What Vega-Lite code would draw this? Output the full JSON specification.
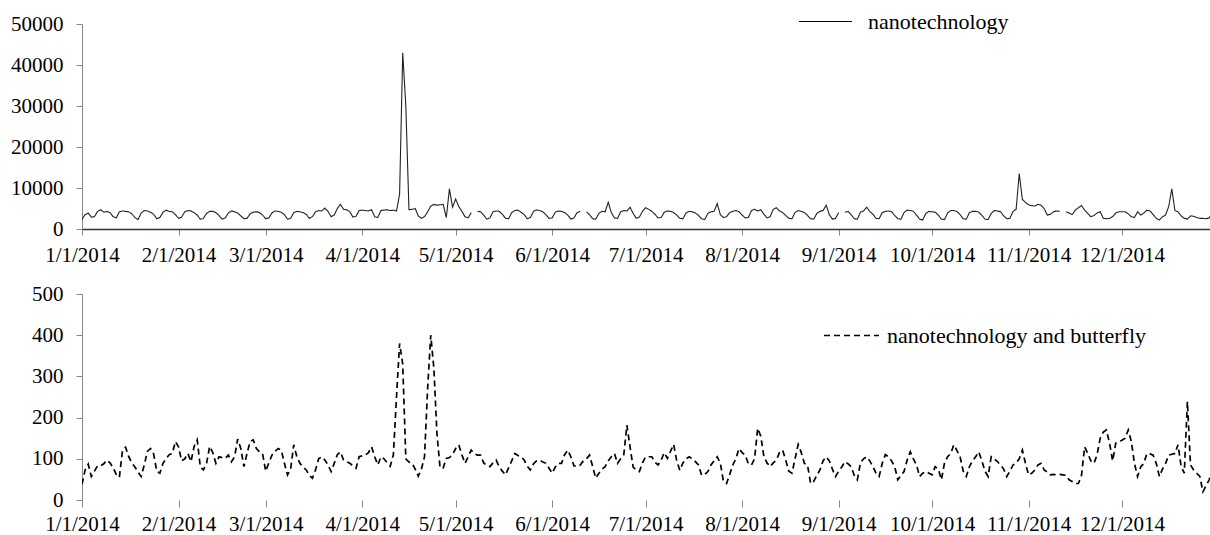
{
"$schema": "https://vega.github.io/schema/vega-lite/v6.json",
"padding": {"left": 10, "top": -6, "right": 0, "bottom": 0},
"background": "white",
"spacing": 18,
"config": {
  "view": {"stroke": null},
  "font": "'Liberation Serif', 'Times New Roman', 'DejaVu Serif', serif",
  "axis": {"labelFont": "'Liberation Serif', 'Times New Roman', 'DejaVu Serif', serif", "labelFontSize": 21, "labelColor": "#000", "grid": false, "title": null, "tickColor": "#888", "domainColor": "#888", "tickSize": 6, "labelFlush": false, "labelOverlap": false},
  "legend": {"labelFont": "'Liberation Serif', 'Times New Roman', 'DejaVu Serif', serif", "labelFontSize": 22, "labelColor": "#000", "title": null, "labelLimit": 400}
},
"data": {"values": [
{"d":"2014-01-01","n":2400,"b":38},{"d":"2014-01-02","n":3500,"b":73},{"d":"2014-01-03","n":3900,"b":87},{"d":"2014-01-04","n":2900,"b":57},{"d":"2014-01-05","n":3000,"b":70},{"d":"2014-01-06","n":4300,"b":83},{"d":"2014-01-07","n":4700,"b":83},{"d":"2014-01-08","n":4100,"b":88},{"d":"2014-01-09","n":4300,"b":97},{"d":"2014-01-10","n":4000,"b":90},{"d":"2014-01-11","n":3000,"b":78},{"d":"2014-01-12","n":2700,"b":62},{"d":"2014-01-13","n":4200,"b":55},{"d":"2014-01-14","n":4400,"b":120},{"d":"2014-01-15","n":4300,"b":128},{"d":"2014-01-16","n":4200,"b":105},{"d":"2014-01-17","n":3700,"b":90},{"d":"2014-01-18","n":2800,"b":80},{"d":"2014-01-19","n":2300,"b":68},{"d":"2014-01-20","n":3900,"b":57},{"d":"2014-01-21","n":4500,"b":85},{"d":"2014-01-22","n":4400,"b":118},{"d":"2014-01-23","n":4100,"b":125},{"d":"2014-01-24","n":3600,"b":112},{"d":"2014-01-25","n":2500,"b":70},{"d":"2014-01-26","n":2800,"b":65},{"d":"2014-01-27","n":4100,"b":89},{"d":"2014-01-28","n":4600,"b":100},{"d":"2014-01-29","n":4300,"b":110},{"d":"2014-01-30","n":4200,"b":113},{"d":"2014-01-31","n":3500,"b":142},
{"d":"2014-02-01","n":2600,"b":129},{"d":"2014-02-02","n":2900,"b":95},{"d":"2014-02-03","n":4200,"b":100},{"d":"2014-02-04","n":4500,"b":113},{"d":"2014-02-05","n":4400,"b":93},{"d":"2014-02-06","n":4000,"b":130},{"d":"2014-02-07","n":3400,"b":146},{"d":"2014-02-08","n":2400,"b":80},{"d":"2014-02-09","n":2600,"b":73},{"d":"2014-02-10","n":3800,"b":89},{"d":"2014-02-11","n":4300,"b":130},{"d":"2014-02-12","n":4300,"b":115},{"d":"2014-02-13","n":4000,"b":89},{"d":"2014-02-14","n":3300,"b":105},{"d":"2014-02-15","n":2400,"b":103},{"d":"2014-02-16","n":2700,"b":101},{"d":"2014-02-17","n":3900,"b":109},{"d":"2014-02-18","n":4400,"b":93},{"d":"2014-02-19","n":4200,"b":105},{"d":"2014-02-20","n":3900,"b":148},{"d":"2014-02-21","n":3200,"b":125},{"d":"2014-02-22","n":2500,"b":81},{"d":"2014-02-23","n":2600,"b":113},{"d":"2014-02-24","n":3700,"b":142},{"d":"2014-02-25","n":4100,"b":146},{"d":"2014-02-26","n":4200,"b":125},{"d":"2014-02-27","n":4000,"b":117},{"d":"2014-02-28","n":3400,"b":112},
{"d":"2014-03-01","n":2500,"b":70},{"d":"2014-03-02","n":2700,"b":90},{"d":"2014-03-03","n":3900,"b":109},{"d":"2014-03-04","n":4400,"b":118},{"d":"2014-03-05","n":4300,"b":125},{"d":"2014-03-06","n":4100,"b":121},{"d":"2014-03-07","n":3500,"b":89},{"d":"2014-03-08","n":2400,"b":61},{"d":"2014-03-09","n":2600,"b":75},{"d":"2014-03-10","n":4000,"b":134},{"d":"2014-03-11","n":4300,"b":105},{"d":"2014-03-12","n":4200,"b":89},{"d":"2014-03-13","n":4000,"b":80},{"d":"2014-03-14","n":3600,"b":73},{"d":"2014-03-15","n":2600,"b":60},{"d":"2014-03-16","n":3000,"b":53},{"d":"2014-03-17","n":4200,"b":73},{"d":"2014-03-18","n":4500,"b":100},{"d":"2014-03-19","n":4400,"b":105},{"d":"2014-03-20","n":5100,"b":97},{"d":"2014-03-21","n":4300,"b":85},{"d":"2014-03-22","n":3000,"b":69},{"d":"2014-03-23","n":3400,"b":89},{"d":"2014-03-24","n":5000,"b":110},{"d":"2014-03-25","n":6000,"b":117},{"d":"2014-03-26","n":4800,"b":97},{"d":"2014-03-27","n":4700,"b":93},{"d":"2014-03-28","n":4200,"b":89},{"d":"2014-03-29","n":2900,"b":83},{"d":"2014-03-30","n":3100,"b":77},{"d":"2014-03-31","n":4500,"b":105},
{"d":"2014-04-01","n":4600,"b":107},{"d":"2014-04-02","n":4500,"b":109},{"d":"2014-04-03","n":4400,"b":115},{"d":"2014-04-04","n":4700,"b":129},{"d":"2014-04-05","n":3000,"b":105},{"d":"2014-04-06","n":2800,"b":85},{"d":"2014-04-07","n":4500,"b":105},{"d":"2014-04-08","n":4600,"b":100},{"d":"2014-04-09","n":4700,"b":90},{"d":"2014-04-10","n":4500,"b":82},{"d":"2014-04-11","n":4600,"b":110},{"d":"2014-04-12","n":4400,"b":250},{"d":"2014-04-13","n":8500,"b":380},{"d":"2014-04-14","n":43000,"b":330},{"d":"2014-04-15","n":30000,"b":100},{"d":"2014-04-16","n":4700,"b":92},{"d":"2014-04-17","n":4800,"b":89},{"d":"2014-04-18","n":5000,"b":75},{"d":"2014-04-19","n":3200,"b":58},{"d":"2014-04-20","n":2600,"b":75},{"d":"2014-04-21","n":3000,"b":105},{"d":"2014-04-22","n":4200,"b":270},{"d":"2014-04-23","n":5600,"b":400},{"d":"2014-04-24","n":6000,"b":320},{"d":"2014-04-25","n":5800,"b":160},{"d":"2014-04-26","n":5900,"b":78},{"d":"2014-04-27","n":6000,"b":78},{"d":"2014-04-28","n":2800,"b":101},{"d":"2014-04-29","n":9800,"b":103},{"d":"2014-04-30","n":5300,"b":110},
{"d":"2014-05-01","n":7300,"b":125},{"d":"2014-05-02","n":5500,"b":134},{"d":"2014-05-03","n":4300,"b":110},{"d":"2014-05-04","n":3000,"b":89},{"d":"2014-05-05","n":2700,"b":105},{"d":"2014-05-06","n":4000,"b":121},{"d":"2014-05-07","n":null,"b":112},{"d":"2014-05-08","n":4300,"b":109},{"d":"2014-05-09","n":4200,"b":109},{"d":"2014-05-10","n":3400,"b":90},{"d":"2014-05-11","n":2400,"b":84},{"d":"2014-05-12","n":2700,"b":81},{"d":"2014-05-13","n":4200,"b":90},{"d":"2014-05-14","n":4400,"b":97},{"d":"2014-05-15","n":4300,"b":80},{"d":"2014-05-16","n":3600,"b":70},{"d":"2014-05-17","n":2600,"b":61},{"d":"2014-05-18","n":2500,"b":78},{"d":"2014-05-19","n":4000,"b":95},{"d":"2014-05-20","n":4500,"b":113},{"d":"2014-05-21","n":4600,"b":108},{"d":"2014-05-22","n":4100,"b":105},{"d":"2014-05-23","n":3500,"b":97},{"d":"2014-05-24","n":2500,"b":82},{"d":"2014-05-25","n":2800,"b":73},{"d":"2014-05-26","n":4300,"b":88},{"d":"2014-05-27","n":4700,"b":95},{"d":"2014-05-28","n":4500,"b":97},{"d":"2014-05-29","n":4200,"b":92},{"d":"2014-05-30","n":3500,"b":89},{"d":"2014-05-31","n":2600,"b":77},
{"d":"2014-06-01","n":2700,"b":65},{"d":"2014-06-02","n":4100,"b":80},{"d":"2014-06-03","n":4400,"b":89},{"d":"2014-06-04","n":4300,"b":89},{"d":"2014-06-05","n":4000,"b":110},{"d":"2014-06-06","n":3400,"b":121},{"d":"2014-06-07","n":2400,"b":105},{"d":"2014-06-08","n":2700,"b":83},{"d":"2014-06-09","n":4000,"b":81},{"d":"2014-06-10","n":4300,"b":85},{"d":"2014-06-11","n":null,"b":95},{"d":"2014-06-12","n":4200,"b":100},{"d":"2014-06-13","n":3500,"b":109},{"d":"2014-06-14","n":2500,"b":81},{"d":"2014-06-15","n":2400,"b":53},{"d":"2014-06-16","n":3800,"b":65},{"d":"2014-06-17","n":4300,"b":75},{"d":"2014-06-18","n":4200,"b":81},{"d":"2014-06-19","n":6500,"b":95},{"d":"2014-06-20","n":4000,"b":105},{"d":"2014-06-21","n":2700,"b":113},{"d":"2014-06-22","n":2600,"b":89},{"d":"2014-06-23","n":4200,"b":100},{"d":"2014-06-24","n":4500,"b":110},{"d":"2014-06-25","n":4400,"b":182},{"d":"2014-06-26","n":5300,"b":129},{"d":"2014-06-27","n":3800,"b":80},{"d":"2014-06-28","n":2600,"b":73},{"d":"2014-06-29","n":2900,"b":69},{"d":"2014-06-30","n":4300,"b":90},
{"d":"2014-07-01","n":5200,"b":105},{"d":"2014-07-02","n":4800,"b":105},{"d":"2014-07-03","n":4300,"b":105},{"d":"2014-07-04","n":3600,"b":92},{"d":"2014-07-05","n":2700,"b":85},{"d":"2014-07-06","n":2800,"b":97},{"d":"2014-07-07","n":4100,"b":115},{"d":"2014-07-08","n":4400,"b":101},{"d":"2014-07-09","n":4300,"b":118},{"d":"2014-07-10","n":4000,"b":135},{"d":"2014-07-11","n":3400,"b":95},{"d":"2014-07-12","n":2600,"b":72},{"d":"2014-07-13","n":2500,"b":90},{"d":"2014-07-14","n":3900,"b":100},{"d":"2014-07-15","n":4300,"b":105},{"d":"2014-07-16","n":4200,"b":100},{"d":"2014-07-17","n":3900,"b":93},{"d":"2014-07-18","n":3300,"b":85},{"d":"2014-07-19","n":2500,"b":60},{"d":"2014-07-20","n":2300,"b":62},{"d":"2014-07-21","n":3800,"b":69},{"d":"2014-07-22","n":4200,"b":85},{"d":"2014-07-23","n":4300,"b":95},{"d":"2014-07-24","n":6200,"b":105},{"d":"2014-07-25","n":3500,"b":90},{"d":"2014-07-26","n":2800,"b":45},{"d":"2014-07-27","n":3000,"b":40},{"d":"2014-07-28","n":4000,"b":62},{"d":"2014-07-29","n":4300,"b":85},{"d":"2014-07-30","n":4500,"b":100},{"d":"2014-07-31","n":4200,"b":125},
{"d":"2014-08-01","n":3400,"b":115},{"d":"2014-08-02","n":2700,"b":109},{"d":"2014-08-03","n":2800,"b":88},{"d":"2014-08-04","n":4500,"b":85},{"d":"2014-08-05","n":4800,"b":100},{"d":"2014-08-06","n":4400,"b":174},{"d":"2014-08-07","n":4700,"b":155},{"d":"2014-08-08","n":3600,"b":105},{"d":"2014-08-09","n":2700,"b":90},{"d":"2014-08-10","n":3000,"b":81},{"d":"2014-08-11","n":4800,"b":90},{"d":"2014-08-12","n":5200,"b":97},{"d":"2014-08-13","n":4400,"b":115},{"d":"2014-08-14","n":4000,"b":121},{"d":"2014-08-15","n":3300,"b":97},{"d":"2014-08-16","n":2600,"b":70},{"d":"2014-08-17","n":2500,"b":65},{"d":"2014-08-18","n":4000,"b":100},{"d":"2014-08-19","n":4500,"b":135},{"d":"2014-08-20","n":4300,"b":115},{"d":"2014-08-21","n":4000,"b":89},{"d":"2014-08-22","n":3300,"b":85},{"d":"2014-08-23","n":2500,"b":40},{"d":"2014-08-24","n":2400,"b":45},{"d":"2014-08-25","n":3800,"b":60},{"d":"2014-08-26","n":4300,"b":73},{"d":"2014-08-27","n":4500,"b":95},{"d":"2014-08-28","n":5800,"b":105},{"d":"2014-08-29","n":3500,"b":95},{"d":"2014-08-30","n":2400,"b":75},{"d":"2014-08-31","n":2600,"b":57},
{"d":"2014-09-01","n":4000,"b":70},{"d":"2014-09-02","n":null,"b":80},{"d":"2014-09-03","n":4100,"b":93},{"d":"2014-09-04","n":4300,"b":88},{"d":"2014-09-05","n":3500,"b":81},{"d":"2014-09-06","n":2500,"b":60},{"d":"2014-09-07","n":2400,"b":49},{"d":"2014-09-08","n":4100,"b":90},{"d":"2014-09-09","n":4400,"b":100},{"d":"2014-09-10","n":5300,"b":105},{"d":"2014-09-11","n":4300,"b":95},{"d":"2014-09-12","n":3600,"b":81},{"d":"2014-09-13","n":2600,"b":65},{"d":"2014-09-14","n":2500,"b":57},{"d":"2014-09-15","n":4000,"b":89},{"d":"2014-09-16","n":4300,"b":110},{"d":"2014-09-17","n":4400,"b":105},{"d":"2014-09-18","n":4200,"b":95},{"d":"2014-09-19","n":3300,"b":81},{"d":"2014-09-20","n":2500,"b":49},{"d":"2014-09-21","n":2400,"b":60},{"d":"2014-09-22","n":4000,"b":69},{"d":"2014-09-23","n":4600,"b":97},{"d":"2014-09-24","n":4500,"b":117},{"d":"2014-09-25","n":4300,"b":100},{"d":"2014-09-26","n":3400,"b":85},{"d":"2014-09-27","n":2400,"b":57},{"d":"2014-09-28","n":2200,"b":65},{"d":"2014-09-29","n":3800,"b":69},{"d":"2014-09-30","n":4300,"b":65},
{"d":"2014-10-01","n":4200,"b":61},{"d":"2014-10-02","n":4100,"b":81},{"d":"2014-10-03","n":3400,"b":75},{"d":"2014-10-04","n":2400,"b":49},{"d":"2014-10-05","n":2300,"b":90},{"d":"2014-10-06","n":3900,"b":105},{"d":"2014-10-07","n":4500,"b":113},{"d":"2014-10-08","n":4500,"b":134},{"d":"2014-10-09","n":4300,"b":120},{"d":"2014-10-10","n":3500,"b":105},{"d":"2014-10-11","n":2500,"b":70},{"d":"2014-10-12","n":2400,"b":57},{"d":"2014-10-13","n":4000,"b":81},{"d":"2014-10-14","n":4300,"b":95},{"d":"2014-10-15","n":4300,"b":105},{"d":"2014-10-16","n":4100,"b":117},{"d":"2014-10-17","n":3300,"b":95},{"d":"2014-10-18","n":2400,"b":70},{"d":"2014-10-19","n":2300,"b":57},{"d":"2014-10-20","n":3800,"b":105},{"d":"2014-10-21","n":4500,"b":100},{"d":"2014-10-22","n":4400,"b":93},{"d":"2014-10-23","n":4200,"b":85},{"d":"2014-10-24","n":3200,"b":75},{"d":"2014-10-25","n":2500,"b":57},{"d":"2014-10-26","n":2600,"b":70},{"d":"2014-10-27","n":4300,"b":85},{"d":"2014-10-28","n":4800,"b":90},{"d":"2014-10-29","n":13500,"b":100},{"d":"2014-10-30","n":7200,"b":121},{"d":"2014-10-31","n":6500,"b":89},
{"d":"2014-11-01","n":5900,"b":61},{"d":"2014-11-02","n":5700,"b":65},{"d":"2014-11-03","n":5600,"b":73},{"d":"2014-11-04","n":6000,"b":85},{"d":"2014-11-05","n":5800,"b":89},{"d":"2014-11-06","n":5000,"b":73},{"d":"2014-11-07","n":3400,"b":68},{"d":"2014-11-08","n":3600,"b":61},{"d":"2014-11-09","n":4200,"b":62},{"d":"2014-11-10","n":4400,"b":61},{"d":"2014-11-11","n":4300,"b":62},{"d":"2014-11-12","n":null,"b":61},{"d":"2014-11-13","n":4200,"b":60},{"d":"2014-11-14","n":3900,"b":49},{"d":"2014-11-15","n":3500,"b":45},{"d":"2014-11-16","n":4600,"b":40},{"d":"2014-11-17","n":5200,"b":40},{"d":"2014-11-18","n":5700,"b":60},{"d":"2014-11-19","n":4600,"b":129},{"d":"2014-11-20","n":3800,"b":113},{"d":"2014-11-21","n":3000,"b":95},{"d":"2014-11-22","n":3300,"b":89},{"d":"2014-11-23","n":3900,"b":110},{"d":"2014-11-24","n":4200,"b":150},{"d":"2014-11-25","n":2600,"b":165},{"d":"2014-11-26","n":2500,"b":170},{"d":"2014-11-27","n":2600,"b":138},{"d":"2014-11-28","n":3000,"b":95},{"d":"2014-11-29","n":3900,"b":138},{"d":"2014-11-30","n":4200,"b":142},
{"d":"2014-12-01","n":4200,"b":145},{"d":"2014-12-02","n":4200,"b":150},{"d":"2014-12-03","n":3700,"b":170},{"d":"2014-12-04","n":3000,"b":142},{"d":"2014-12-05","n":2800,"b":89},{"d":"2014-12-06","n":4200,"b":57},{"d":"2014-12-07","n":3400,"b":80},{"d":"2014-12-08","n":3900,"b":89},{"d":"2014-12-09","n":4600,"b":113},{"d":"2014-12-10","n":4400,"b":112},{"d":"2014-12-11","n":3500,"b":109},{"d":"2014-12-12","n":2600,"b":89},{"d":"2014-12-13","n":2200,"b":57},{"d":"2014-12-14","n":3000,"b":75},{"d":"2014-12-15","n":3400,"b":89},{"d":"2014-12-16","n":5500,"b":109},{"d":"2014-12-17","n":9800,"b":111},{"d":"2014-12-18","n":4500,"b":113},{"d":"2014-12-19","n":4200,"b":134},{"d":"2014-12-20","n":3200,"b":81},{"d":"2014-12-21","n":2600,"b":65},{"d":"2014-12-22","n":2400,"b":239},{"d":"2014-12-23","n":3200,"b":85},{"d":"2014-12-24","n":3100,"b":73},{"d":"2014-12-25","n":2800,"b":65},{"d":"2014-12-26","n":2600,"b":57},{"d":"2014-12-27","n":2600,"b":20},{"d":"2014-12-28","n":2500,"b":35},{"d":"2014-12-29","n":2700,"b":49},{"d":"2014-12-30","n":3900,"b":81},{"d":"2014-12-31","n":4100,"b":85}
]},
"vconcat": [
{
  "width": 1129, "height": 205,
  "transform": [{"fold": ["n"], "as": ["series", "value"]}],
  "mark": {"type": "line", "stroke": "#222", "strokeWidth": 1.1, "clip": true, "invalid": "break-paths-show-domains"},
  "encoding": {
    "x": {"field": "d", "type": "temporal",
      "scale": {"type": "utc", "domain": [{"year": 2014, "month": 1, "date": 1, "utc": true}, {"year": 2014, "month": 12, "date": 29, "hours": 14, "utc": true}]},
      "axis": {"values": [{"year":2014,"month":1,"date":1,"utc":true},{"year":2014,"month":2,"date":1,"utc":true},{"year":2014,"month":3,"date":1,"utc":true},{"year":2014,"month":4,"date":1,"utc":true},{"year":2014,"month":5,"date":1,"utc":true},{"year":2014,"month":6,"date":1,"utc":true},{"year":2014,"month":7,"date":1,"utc":true},{"year":2014,"month":8,"date":1,"utc":true},{"year":2014,"month":9,"date":1,"utc":true},{"year":2014,"month":10,"date":1,"utc":true},{"year":2014,"month":11,"date":1,"utc":true},{"year":2014,"month":12,"date":1,"utc":true}],
        "format": "%-m/%-d/%Y", "domainColor": "#333", "domainWidth": 1.5, "tickColor": "#888", "tickSize": 6, "labelPadding": 9}},
    "y": {"field": "value", "type": "quantitative", "scale": {"domain": [0, 50000], "nice": false},
      "axis": {"values": [0, 10000, 20000, 30000, 40000, 50000], "format": "d", "labelPadding": 13}},
    "strokeDash": {"field": "series", "type": "nominal",
      "scale": {"domain": ["n"], "range": [[1, 0]]},
      "legend": {"orient": "none", "legendX": 716, "legendY": -30, "labelExpr": "'nanotechnology'", "symbolType": "stroke", "symbolSize": 2809, "symbolStrokeColor": "#000", "symbolStrokeWidth": 1.2, "labelOffset": 15}}
  }
},
{
  "width": 1129, "height": 206,
  "transform": [{"fold": ["b"], "as": ["series", "value"]}],
  "mark": {"type": "line", "stroke": "#000", "strokeWidth": 1.7, "clip": true},
  "encoding": {
    "x": {"field": "d", "type": "temporal",
      "scale": {"type": "utc", "domain": [{"year": 2014, "month": 1, "date": 1, "utc": true}, {"year": 2014, "month": 12, "date": 29, "hours": 14, "utc": true}]},
      "axis": {"values": [{"year":2014,"month":1,"date":1,"utc":true},{"year":2014,"month":2,"date":1,"utc":true},{"year":2014,"month":3,"date":1,"utc":true},{"year":2014,"month":4,"date":1,"utc":true},{"year":2014,"month":5,"date":1,"utc":true},{"year":2014,"month":6,"date":1,"utc":true},{"year":2014,"month":7,"date":1,"utc":true},{"year":2014,"month":8,"date":1,"utc":true},{"year":2014,"month":9,"date":1,"utc":true},{"year":2014,"month":10,"date":1,"utc":true},{"year":2014,"month":11,"date":1,"utc":true},{"year":2014,"month":12,"date":1,"utc":true}],
        "format": "%-m/%-d/%Y", "domain": false, "tickColor": "#888", "tickSize": 7, "labelPadding": 6}},
    "y": {"field": "value", "type": "quantitative", "scale": {"domain": [0, 500], "nice": false},
      "axis": {"values": [0, 100, 200, 300, 400, 500], "format": "d", "labelPadding": 13}},
    "strokeDash": {"field": "series", "type": "nominal",
      "scale": {"domain": ["b"], "range": [[6, 4]]},
      "legend": {"orient": "none", "legendX": 741, "legendY": 13, "labelExpr": "'nanotechnology and butterfly'", "symbolType": "stroke", "symbolSize": 3025, "symbolStrokeColor": "#000", "symbolStrokeWidth": 1.5, "labelOffset": 7}}
  }
}
],
"resolve": {"scale": {"strokeDash": "independent", "x": "independent", "y": "independent"}, "legend": {"strokeDash": "independent"}, "axis": {"x": "independent", "y": "independent"}}
}
